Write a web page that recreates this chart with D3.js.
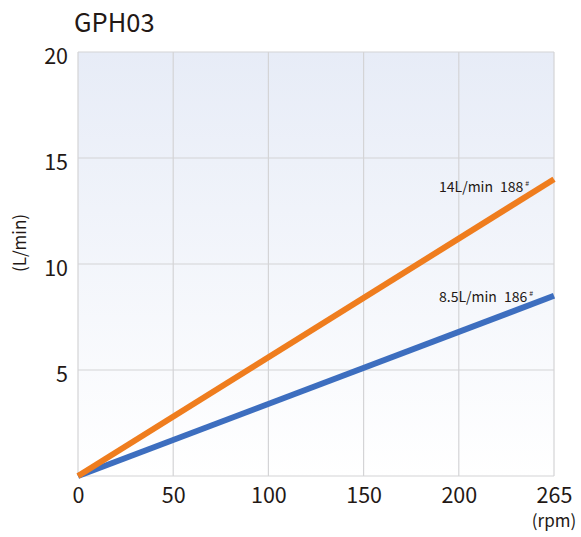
<!DOCTYPE html>
<html><head><meta charset="utf-8">
<script src="https://cdn.jsdelivr.net/npm/d3@7"></script>
<style>body{margin:0;background:#fff}svg{display:block}text{font-family:"Noto Sans CJK JP","Noto Sans",sans-serif;fill:#231815}</style>
</head><body><div id="c"></div>
<script>
const xTickLabels = ["0","50","100","150","200","265"];
const yTicks = [5,10,15,20];
const orangeX = ["0","265"];
const orangeValues = [0,14];
const blueX = ["0","265"];
const blueValues = [0,8.5];
const orangeLabel = ["14L/min","188"];
const blueLabel = ["8.5L/min","186"];
const title = "GPH03";

const W=581,H=537, L=78, R=554, T=52, B=476;
const svg=d3.select("#c").append("svg").attr("width",W).attr("height",H);
const x=d3.scalePoint().domain(xTickLabels).range([L,R]);
const y=d3.scaleLinear().domain([0,20]).range([B,T]);

const defs=svg.append("defs");
const g=defs.append("linearGradient").attr("id","bg").attr("x1",0).attr("y1",0).attr("x2",0).attr("y2",1);
g.append("stop").attr("offset","0%").attr("stop-color","#e7ecf7");
g.append("stop").attr("offset","100%").attr("stop-color","#ffffff");
svg.append("rect").attr("x",L).attr("y",T).attr("width",R-L).attr("height",B-T).attr("fill","url(#bg)");

// grid
svg.append("g").selectAll("line").data(xTickLabels).join("line")
 .attr("x1",d=>x(d)).attr("x2",d=>x(d)).attr("y1",T).attr("y2",B)
 .attr("stroke","#d4d4d6").attr("stroke-width",1.2);
svg.append("g").selectAll("line").data([0].concat(yTicks)).join("line")
 .attr("x1",L).attr("x2",R).attr("y1",d=>y(d)).attr("y2",d=>y(d))
 .attr("stroke","#d4d4d6").attr("stroke-width",1.2);

// axes labels
const xa=d3.axisBottom(x).tickSize(0).tickPadding(0);
const gx=svg.append("g").attr("transform",`translate(0,${B})`).call(xa);
gx.select(".domain").remove();
gx.selectAll("text").attr("y",27).attr("dy",0).style("font-size","21.5px");
const ya=d3.axisLeft(y).tickValues(yTicks).tickSize(0).tickPadding(0);
const gy=svg.append("g").attr("transform",`translate(${L-10},0)`).call(ya);
gy.select(".domain").remove();
gy.selectAll("text").attr("x",0).attr("dy","0.6em").attr("y",-1).style("font-size","21.5px");

const line=d3.line().x(d=>x(d[0])).y(d=>y(d[1]));
svg.append("path").datum(blueX.map((d,i)=>[d,blueValues[i]])).attr("d",line)
 .attr("fill","none").attr("stroke","#3d6ebf").attr("stroke-width",6);
svg.append("path").datum(orangeX.map((d,i)=>[d,orangeValues[i]])).attr("d",line)
 .attr("fill","none").attr("stroke","#ef7d1e").attr("stroke-width",6);

function lab(t,yy){
 const tx=svg.append("text").attr("x",439).attr("y",yy).style("font-size","14px");
 tx.append("tspan").text(t[0]);
 tx.append("tspan").attr("dx",7).text(t[1]);
 tx.append("tspan").attr("dx",2).attr("dy",-6).style("font-size","7px").text("#");
}
lab(orangeLabel,192);
lab(blueLabel,302);

svg.append("text").attr("x",74).attr("y",32).style("font-size","25.5px").text(title);
svg.append("text").attr("transform","translate(26,243) rotate(-90)").attr("text-anchor","middle").style("font-size","17px").text("(L/min)");
svg.append("text").attr("x",554).attr("y",527).attr("text-anchor","middle").style("font-size","17px").text("(rpm)");
</script></body></html>
